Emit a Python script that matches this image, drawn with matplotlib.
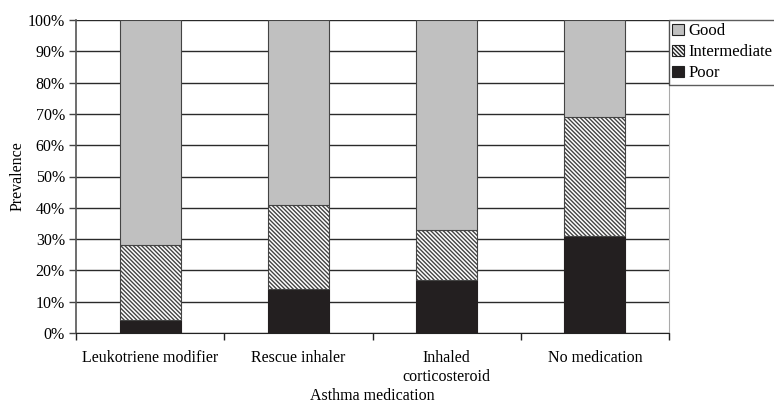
import numpy as np
import matplotlib
matplotlib.use('Agg')
from matplotlib import pyplot as plt

plt.rcParams['font.family'] = ['Liberation Serif', 'DejaVu Serif']
plt.rcParams['hatch.color'] = '#333333'
plt.rcParams['hatch.linewidth'] = 1.0

categories = ['Leukotriene modifier', 'Rescue inhaler', 'Inhaled\ncorticosteroid', 'No medication']
poor = [4, 14, 17, 31]
intermediate = [24, 27, 16, 38]
good = [72, 59, 67, 31]
yticks = [0, 10, 20, 30, 40, 50, 60, 70, 80, 90, 100]

fig = plt.figure(figsize=(7.74, 4.09), dpi=100)
ax = fig.add_axes([76 / 774, 76 / 409, 593 / 774, 313 / 409])

x = np.arange(len(categories))
w = 0.41
poor = np.array(poor)
intermediate = np.array(intermediate)
good = np.array(good)

ax.bar(x, poor, w, color='#231f20', edgecolor='#231f20', linewidth=0.8,
       label='Poor', zorder=3)
ax.bar(x, intermediate, w, bottom=poor, color='white', edgecolor='#444444',
       hatch='\\\\\\\\\\\\\\\\', linewidth=0.8, label='Intermediate', zorder=3)
ax.bar(x, good, w, bottom=poor + intermediate, color='#c0c0c0',
       edgecolor='#444444', linewidth=0.8, label='Good', zorder=3)

ax.set_xlim(-0.5, len(categories) - 0.5)
ax.set_ylim(0, 100)
ax.set_yticks(yticks)
ax.set_yticklabels(['{}%'.format(v) for v in yticks], fontsize=11.5)
ax.yaxis.grid(True, color='#2a2a2a', linewidth=1.0, zorder=0)
ax.set_axisbelow(True)

# category labels between boundary ticks
ax.set_xticks(np.arange(len(categories) + 1) - 0.5)
ax.set_xticklabels([])
ax.set_xticks(x, minor=True)
ax.set_xticklabels(categories, minor=True, fontsize=11.5, linespacing=1.3)
ax.tick_params(axis='x', which='minor', length=0, pad=12)
ax.tick_params(axis='x', which='major', length=5, color='#222222', width=1)
ax.tick_params(axis='y', length=5, color='#444444', width=1, pad=3)

ax.spines['top'].set_visible(False)
ax.spines['right'].set_color('#aaaaaa')
ax.spines['left'].set_color('#555555')
ax.spines['left'].set_linewidth(1.2)
ax.spines['bottom'].set_color('#222222')

fig.text(18 / 774, 1 - 176 / 409, 'Prevalence', rotation=90, fontsize=11.5,
         ha='center', va='center')
fig.text(372 / 774, 1 - 396 / 409, 'Asthma medication', fontsize=11.5,
         ha='center', va='center')

handles, labels = ax.get_legend_handles_labels()
leg = ax.legend(handles[::-1], labels[::-1], loc='upper left',
                bbox_to_anchor=(1.0, 1.0), borderaxespad=0, fontsize=12,
                frameon=True, fancybox=False, handlelength=0.7,
                handleheight=0.7, handletextpad=0.25, labelspacing=0.3,
                borderpad=0.2)
leg.get_frame().set_edgecolor('#333333')
leg.get_frame().set_linewidth(1.0)
for h in leg.legend_handles:
    h.set_edgecolor('#222222')

fig.savefig('out.png', dpi=100)
